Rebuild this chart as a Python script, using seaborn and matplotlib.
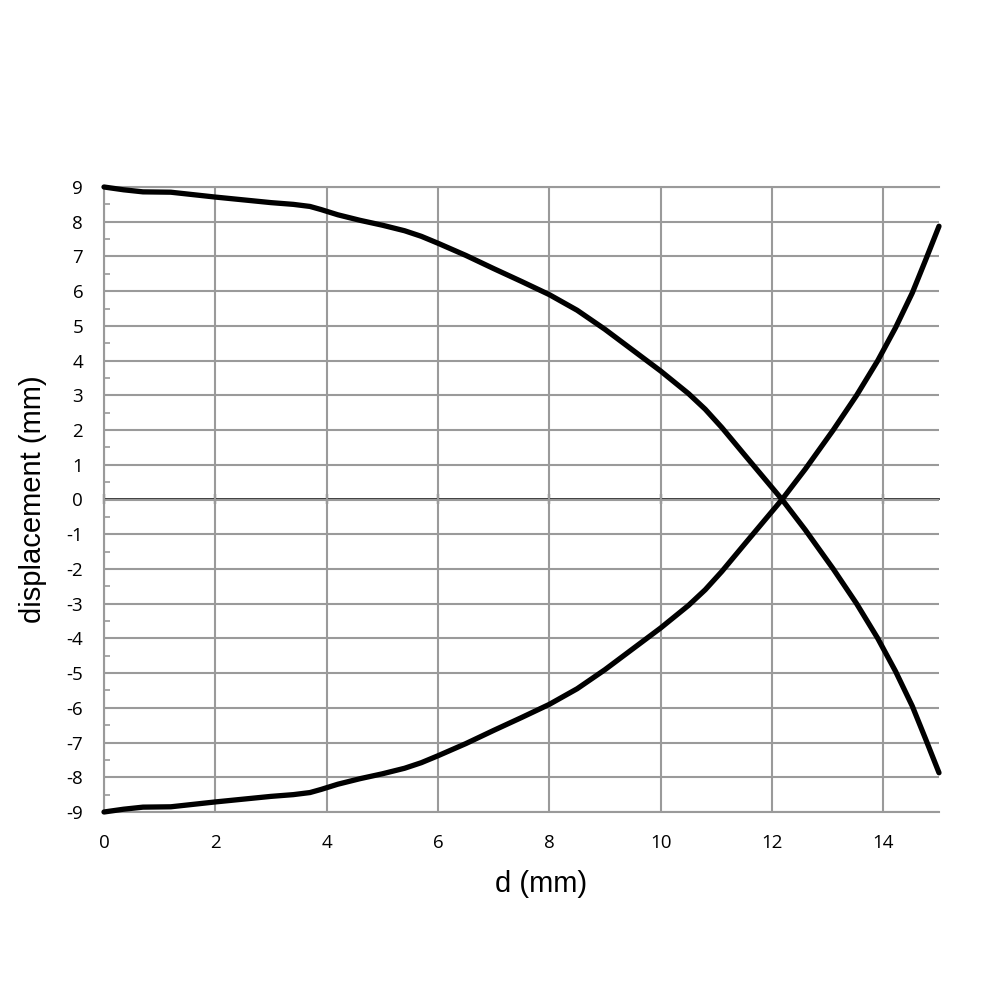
import matplotlib
matplotlib.use("Agg")
import matplotlib.pyplot as plt
import seaborn as sns
import pandas as pd
from matplotlib.ticker import MultipleLocator

# --- data ---
d_mm = [0, 0.35, 0.7, 1.2, 1.6, 2, 2.5, 3, 3.4, 3.7, 3.9, 4.2, 4.6, 5, 5.4,
        5.7, 6, 6.5, 7, 7.5, 8, 8.5, 9, 9.5, 10, 10.5, 10.8, 11.1, 11.5,
        12.18, 12.6, 13.1, 13.52, 13.9, 14.22, 14.52, 14.76, 15]
curve_a = [9.0, 8.92, 8.86, 8.85, 8.78, 8.71, 8.63, 8.55, 8.5, 8.44, 8.35,
           8.2, 8.04, 7.9, 7.74, 7.58, 7.38, 7.03, 6.65, 6.28, 5.9, 5.45,
           4.9, 4.3, 3.7, 3.05, 2.6, 2.07, 1.3, 0.0, -0.88, -2.0,
           -3.0, -4.0, -4.95, -5.95, -6.9, -7.87]
curve_b = [-9.0, -8.92, -8.86, -8.85, -8.78, -8.71, -8.63, -8.55, -8.5, -8.44,
           -8.35, -8.2, -8.04, -7.9, -7.74, -7.58, -7.38, -7.03, -6.65, -6.28,
           -5.9, -5.45, -4.9, -4.3, -3.7, -3.05, -2.6, -2.07, -1.3, 0.0,
           0.88, 2.0, 3.0, 4.0, 4.95, 5.95, 6.9, 7.87]
x_ticks = [0, 2, 4, 6, 8, 10, 12, 14]
y_ticks = list(range(-9, 10))

df = pd.DataFrame({
    "d": d_mm + d_mm,
    "disp": curve_a + curve_b,
    "curve": ["a"] * len(d_mm) + ["b"] * len(d_mm),
})

sns.set_theme(style="white")
plt.rcParams["font.family"] = ["Open Sans", "DejaVu Sans"]

fig = plt.figure(figsize=(10, 10), dpi=100)
ax = fig.add_axes([0.104, 0.188, 0.835, 0.625])

sns.lineplot(data=df, x="d", y="disp", hue="curve",
             palette=["black", "black"], linewidth=3.8, legend=False,
             ax=ax, estimator=None, sort=True, zorder=5)
for ln in ax.lines:
    ln.set_solid_capstyle("round")
    ln.set_solid_joinstyle("round")
    ln.set_clip_on(False)

grid_c = "#9a9a9a"
ax.set_xlim(0, 15)
ax.set_ylim(-9, 9)
ax.set_xticks(x_ticks)
ax.set_yticks(y_ticks)
ax.set_xticklabels([str(v) for v in x_ticks])
ax.set_yticklabels([str(v) for v in y_ticks])
ax.yaxis.set_minor_locator(MultipleLocator(0.5))
ax.grid(True, which="major", color=grid_c, linewidth=1.5, zorder=0)
ax.set_axisbelow(True)

ax.tick_params(axis="both", which="major", length=0, labelsize=13.5,
               colors="black")
ax.tick_params(axis="y", which="major", pad=15)
ax.tick_params(axis="x", which="major", pad=16)
ax.tick_params(axis="y", which="minor", left=True, direction="in",
               length=4, width=1.2, color=grid_c)

for side in ["left", "top", "bottom"]:
    ax.spines[side].set_visible(True)
    ax.spines[side].set_color(grid_c)
    ax.spines[side].set_linewidth(1.5)
ax.spines["right"].set_visible(False)

# zero axis line with ticks
sec = ax.secondary_xaxis(0.5)
sec.set_xticks(x_ticks)
sec.set_xticklabels([])
sec.tick_params(direction="inout", length=7, width=1.6, color="#111111")
sec.spines["bottom"].set_color("#111111")
sec.spines["bottom"].set_linewidth(2.0)

ax.set_xlabel("d (mm)", fontsize=21, family=["Liberation Sans", "DejaVu Sans"],
              color="black")
ax.xaxis.set_label_coords(0.524, -0.092)
ax.set_ylabel("displacement (mm)", fontsize=21, color="black",
              family=["Liberation Sans", "DejaVu Sans"], labelpad=14)

fig.savefig("out.png", dpi=100, facecolor="white")
